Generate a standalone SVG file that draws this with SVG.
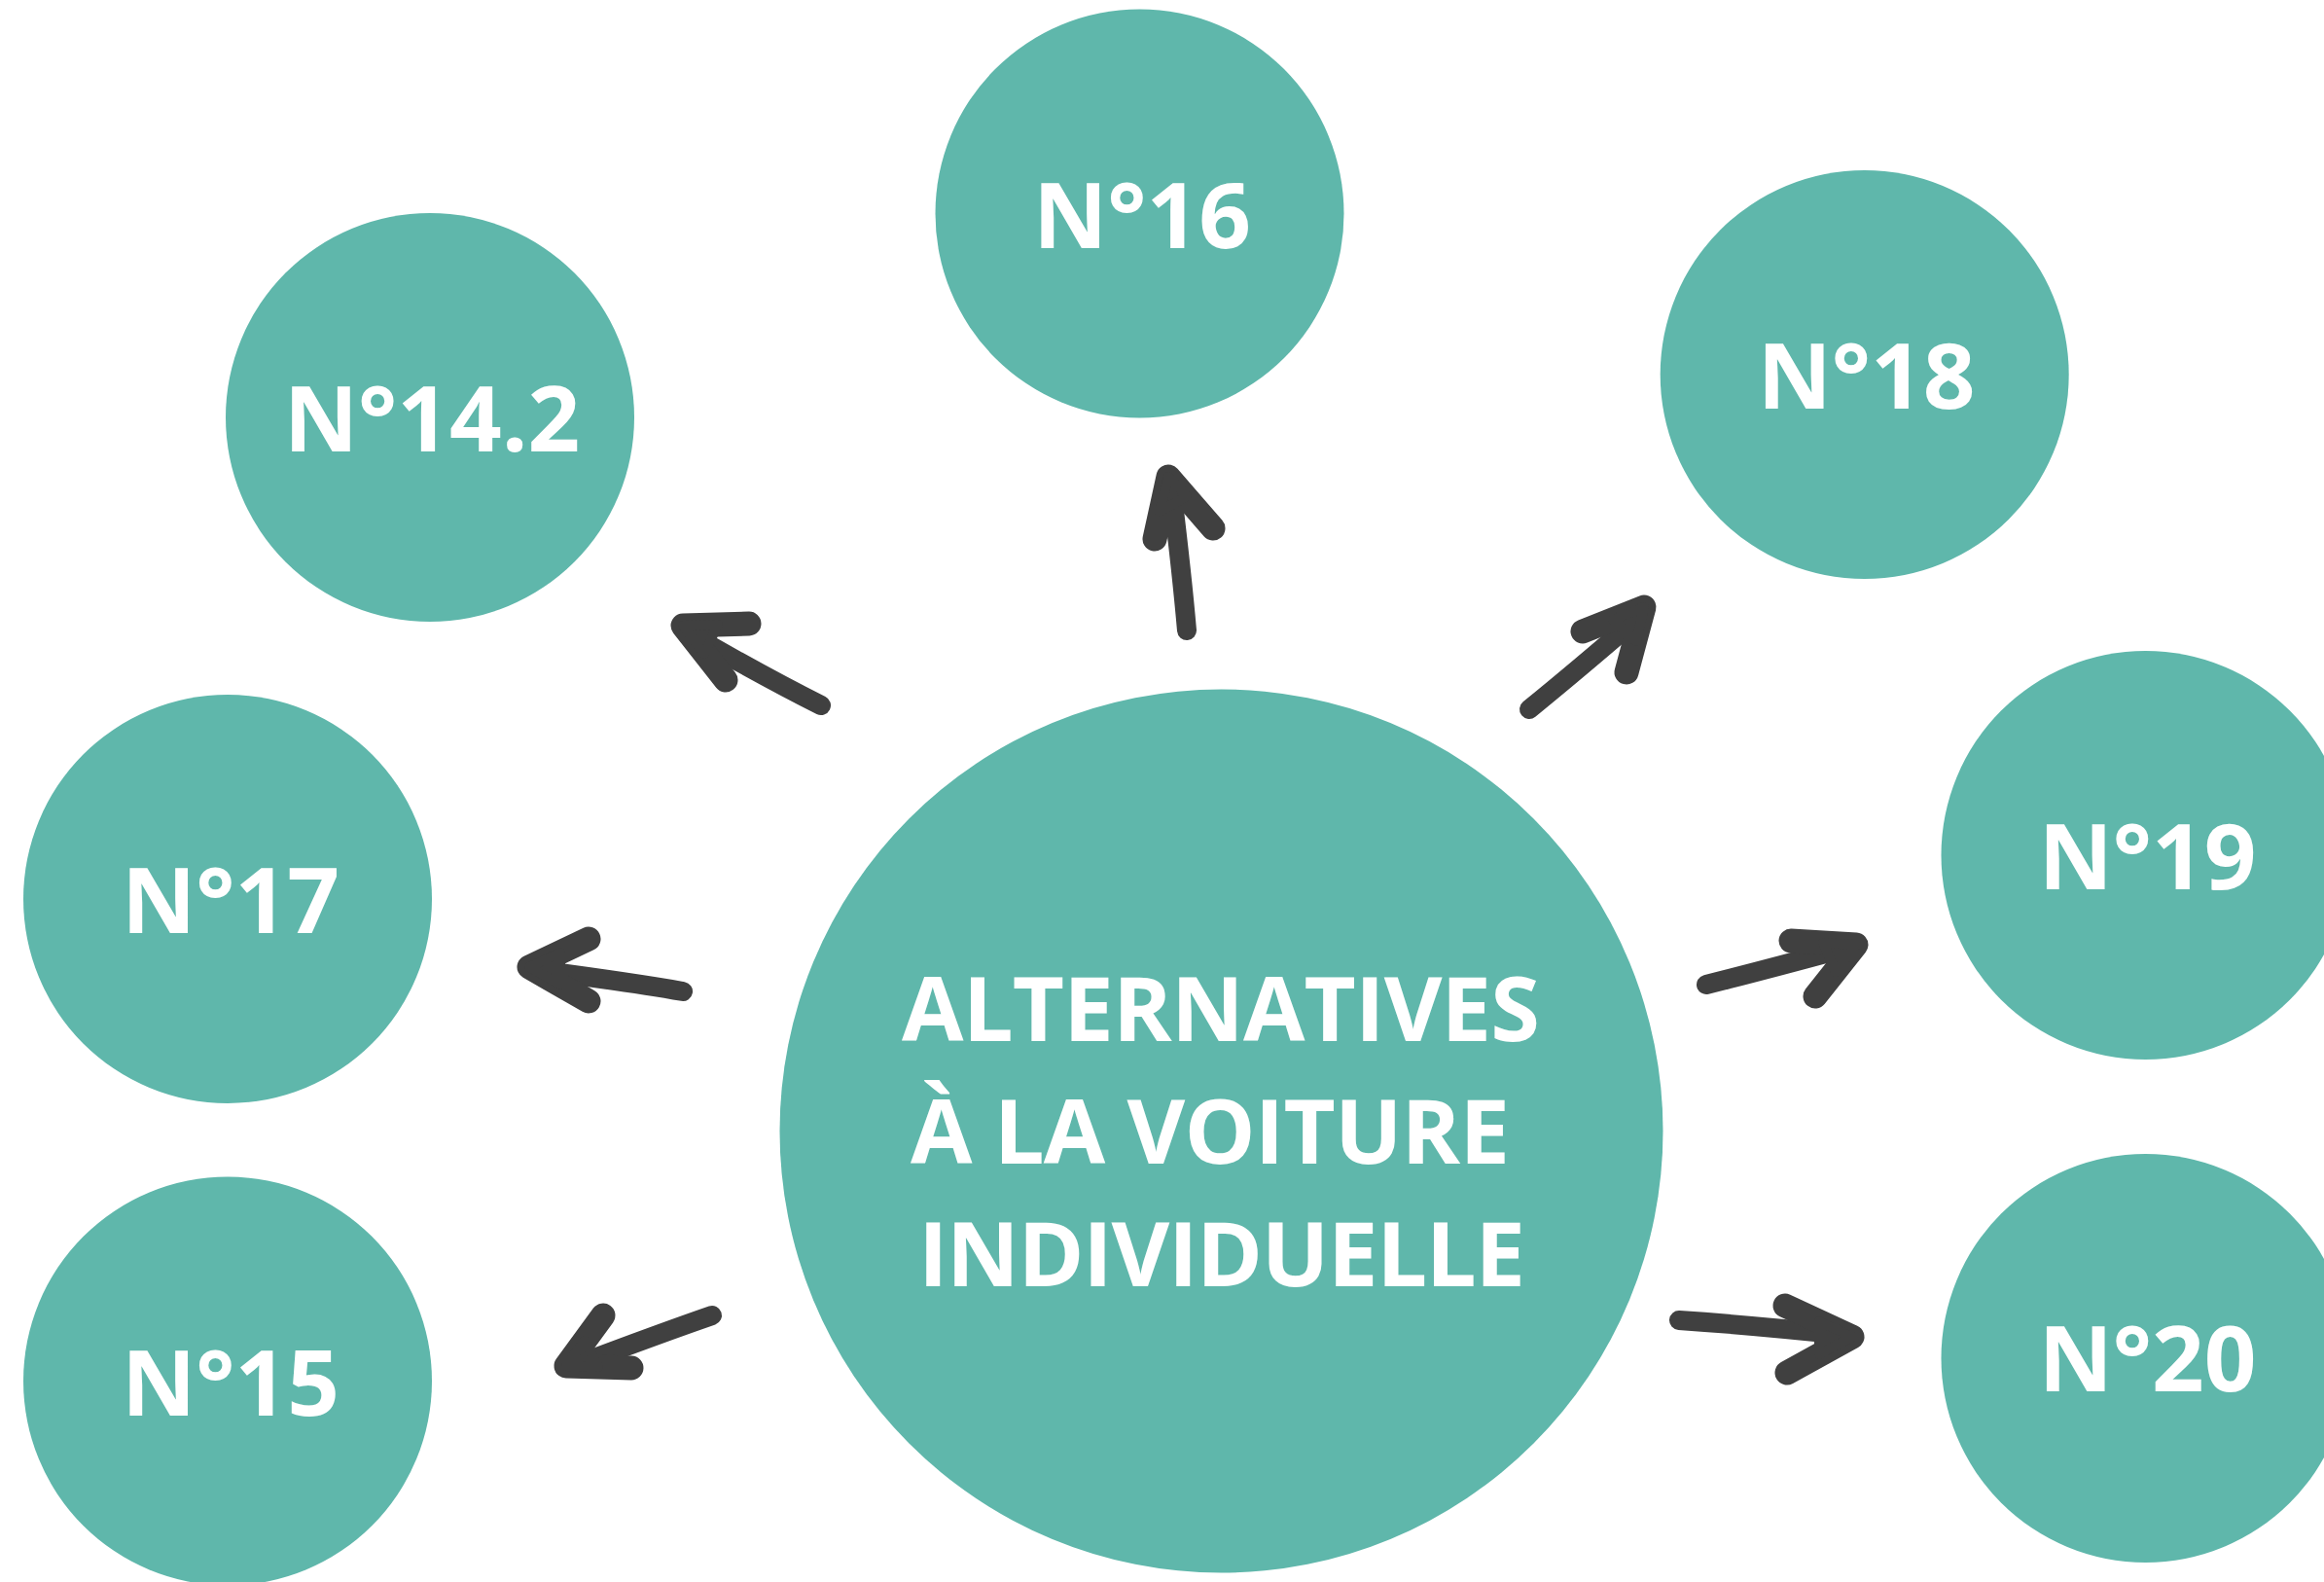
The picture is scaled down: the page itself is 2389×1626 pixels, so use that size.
<svg xmlns="http://www.w3.org/2000/svg" width="2389" height="1626" viewBox="0 0 2389 1626">
<style>
.c{fill:#5FB7AB}
.t{font-family:"Open Sans","Liberation Sans",sans-serif;font-weight:700;fill:#FFFFFF;text-anchor:middle;font-size:94px}
.m{font-family:"Open Sans","Liberation Sans",sans-serif;font-weight:700;fill:#FFFFFF;font-size:92px}
.a{fill:none;stroke:#404040;stroke-linecap:round;stroke-linejoin:round}
.f{fill:#404040;stroke:#404040;stroke-width:10;stroke-linejoin:round}
.h{stroke-width:25}
.s{stroke-width:20}
</style>
<rect width="2389" height="1626" fill="#FFFFFF"/>
<g id="connectors">
<g id="arrow-14-2"><path class="a s" d="M 844,725 Q 790,698 715,655"/><path class="a h" d="M 770,641 L 702,643 L 746,699"/><path class="f" d="M 702,643 L 738,642 L 724,672 Z"/></g>
<g id="arrow-16"><path class="a s" d="M 1220,648 Q 1215,590 1204,500"/><path class="a h" d="M 1187,554 L 1201,490 L 1247,543"/><path class="f" d="M 1201,490 L 1192,526 L 1220,510 Z"/></g>
<g id="arrow-18"><path class="a s" d="M 1572,729 Q 1620,690 1685,634"/><path class="a h" d="M 1627,649 L 1690,624 L 1672,691"/><path class="f" d="M 1690,624 L 1658,637 L 1682,659 Z"/></g>
<g id="arrow-17"><path class="a s" d="M 702,1019 Q 650,1010 560,998"/><path class="a h" d="M 605,965 L 544,994 L 605,1029"/><path class="f" d="M 544,994 L 576,979 L 576,1012 Z"/></g>
<g id="arrow-19"><path class="a s" d="M 1754,1012 Q 1810,998 1895,975"/><path class="a h" d="M 1841,967 L 1908,971 L 1866,1024"/><path class="f" d="M 1908,971 L 1874,969 L 1887,999 Z"/></g>
<g id="arrow-15"><path class="a s" d="M 732,1352 Q 680,1370 595,1402"/><path class="a h" d="M 620,1352 L 582,1404 L 649,1406"/><path class="f" d="M 582,1404 L 601,1378 L 615,1405 Z"/></g>
<g id="arrow-20"><path class="a s" d="M 1726,1357 Q 1800,1362 1895,1372"/><path class="a h" d="M 1835,1342 L 1904,1374 L 1837,1411"/><path class="f" d="M 1904,1374 L 1870,1358 L 1870,1392 Z"/></g>
</g>
<g id="node-center"><circle class="c" cx="1255.5" cy="1162.5" r="454"/>
<text class="m" x="927" y="1070" textLength="656" lengthAdjust="spacing">ALTERNATIVES</text>
<text class="m" x="936" y="1196" textLength="616" lengthAdjust="spacing">À LA VOITURE</text>
<text class="m" x="944" y="1322" textLength="624" lengthAdjust="spacing">INDIVIDUELLE</text>
</g>
<g id="node-16"><circle class="c" cx="1171.5" cy="219.5" r="210"/><text class="t" x="1174" y="255">N°16</text></g>
<g id="node-14-2"><circle class="c" cx="442" cy="429" r="210"/><text class="t" x="444" y="464">N°14.2</text></g>
<g id="node-18"><circle class="c" cx="1916.7" cy="385" r="210"/><text class="t" x="1918.5" y="420">N°18</text></g>
<g id="node-17"><circle class="c" cx="234" cy="924" r="210"/><text class="t" x="237" y="959">N°17</text></g>
<g id="node-19"><circle class="c" cx="2205.5" cy="879" r="210"/><text class="t" x="2207.5" y="914">N°19</text></g>
<g id="node-15"><circle class="c" cx="234" cy="1419.5" r="210"/><text class="t" x="237" y="1454.5">N°15</text></g>
<g id="node-20"><circle class="c" cx="2205.5" cy="1396" r="210"/><text class="t" x="2207.5" y="1430">N°20</text></g>
</svg>
